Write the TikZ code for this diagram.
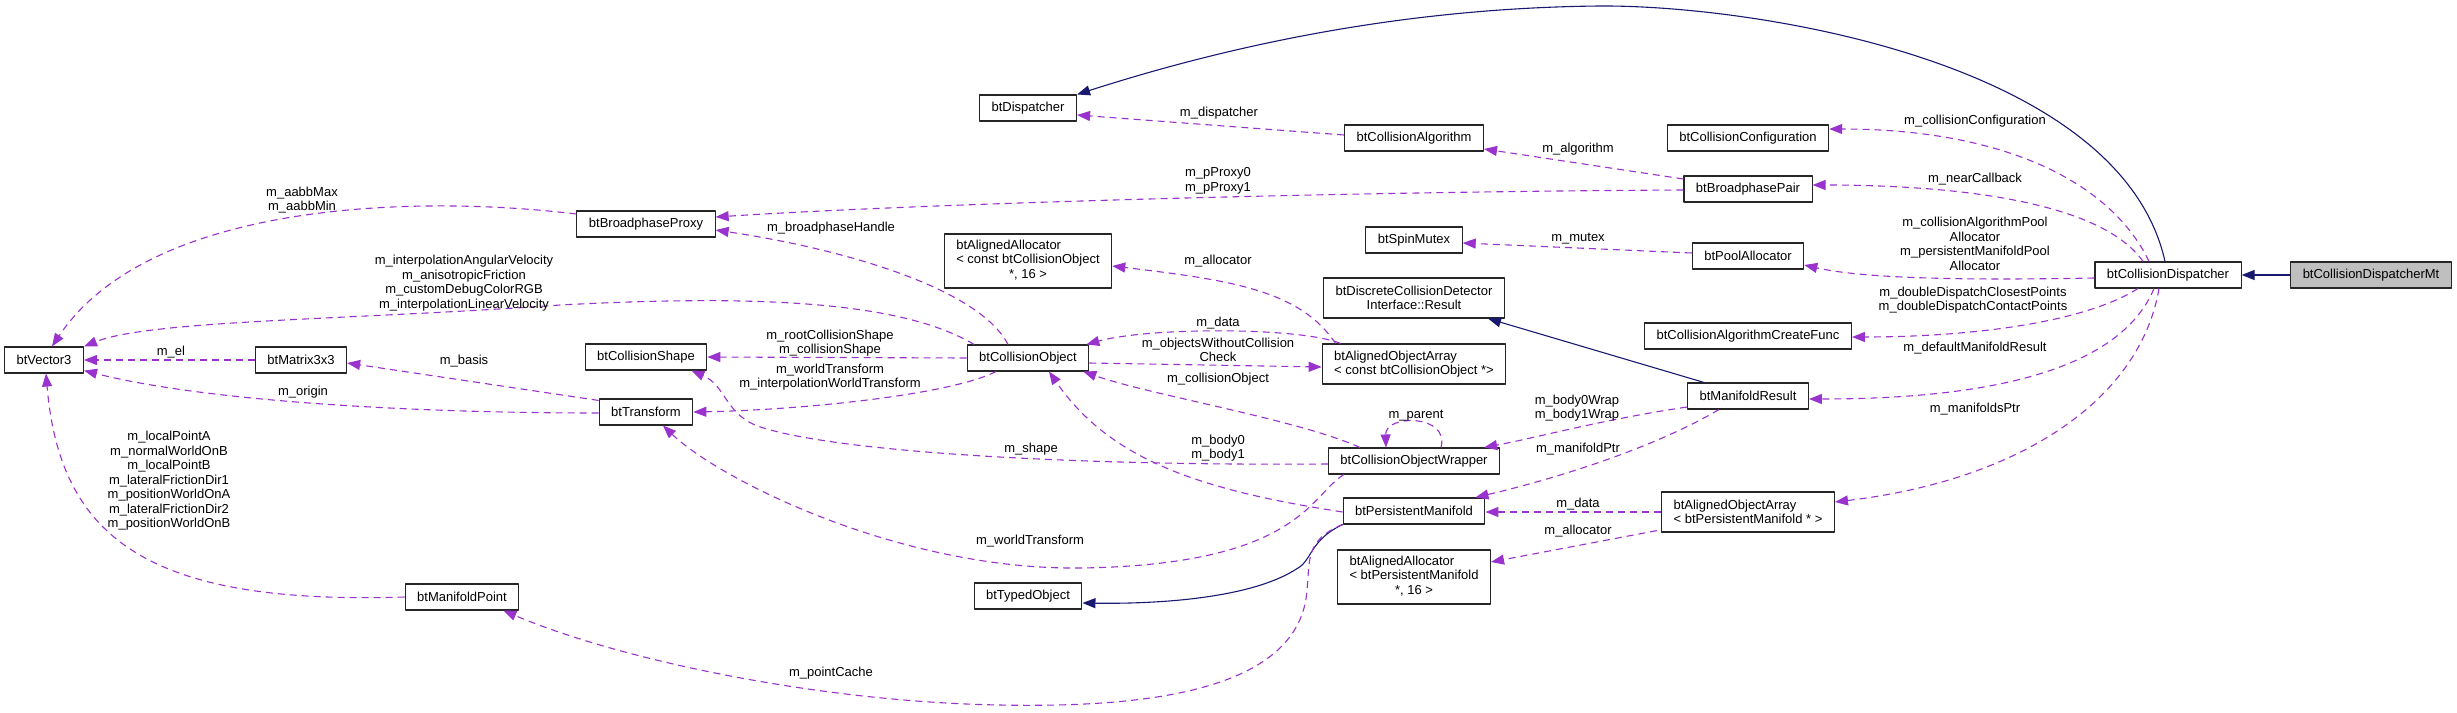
\documentclass[tikz,border=0pt]{standalone}
\usepackage{fontspec}
\setmainfont{Liberation Sans}
\usepackage{xcolor}
\usepackage{tikz}
\usetikzlibrary{arrows.meta}
\usetikzlibrary{calc}
\definecolor{edgepurple}{HTML}{9A32CD}
\definecolor{edgenavy}{HTML}{191970}
\definecolor{nodegray}{HTML}{BFBFBF}

\begin{document}
\begin{tikzpicture}[x=1pt,y=-1pt,>=Triangle,line join=round,line cap=round]
% -------------------------------------------------
% Styles
% -------------------------------------------------
\tikzset{
  cls/.style={draw=black!85, line width=1.1pt, fill=white, font=\fontsize{13}{14.5}\selectfont, inner xsep=12pt, inner ysep=3pt, minimum height=26pt},
  member/.style={draw=edgepurple, line width=1.1pt, dash pattern=on 7pt off 5pt, line cap=butt, -{Triangle[length=13pt,width=10pt]}},
  inherit/.style={draw=edgenavy, line width=1.1pt, -{Triangle[length=13pt,width=10pt]}},
  lbl/.style={font=\fontsize{13}{14.5}\selectfont, align=center, inner sep=0pt},
}
\useasboundingbox (0,0) rectangle (2457,712);
% -------------------------------------------------
% CLASSES
% -------------------------------------------------
\node[cls, fill=nodegray] (dispMt) at (2371,275) {btCollisionDispatcherMt};
\node[cls] (disp) at (2168,275) {btCollisionDispatcher};

\node[cls] (collConf) at (1748,138) {btCollisionConfiguration};
\node[cls] (bpPair) at (1748,189) {btBroadphasePair};
\node[cls] (poolAlloc) at (1748,256) {btPoolAllocator};
\node[cls] (createFunc) at (1748,336) {btCollisionAlgorithmCreateFunc};
\node[cls] (manRes) at (1748,396) {btManifoldResult};
\node[cls, minimum height=40pt, align=left] (arrPersMan) at (1748,512) {btAlignedObjectArray\\< btPersistentManifold * >};

\node[cls] (collAlg) at (1414,138) {btCollisionAlgorithm};
\node[cls] (spinMutex) at (1414,240) {btSpinMutex};
\node[cls, minimum height=40pt, align=center] (dcdiResult) at (1414,298) {btDiscreteCollisionDetector\\Interface::Result};
\node[cls, minimum height=40pt, align=left] (arrCollObj) at (1414,364) {btAlignedObjectArray\\< const btCollisionObject *>};
\node[cls] (collObjWrap) at (1414,461) {btCollisionObjectWrapper};
\node[cls] (persMan) at (1414,511) {btPersistentManifold};
\node[cls, minimum height=54pt] (allocPersMan) at (1414,577) {\begin{tabular}{@{}l@{}}btAlignedAllocator\\< btPersistentManifold\\\multicolumn{1}{@{}c@{}}{*, 16 >}\end{tabular}};

\node[cls] (dispatcher) at (1028,108) {btDispatcher};
\node[cls, minimum height=54pt] (allocCollObj) at (1028,261) {\begin{tabular}{@{}l@{}}btAlignedAllocator\\< const btCollisionObject\\\multicolumn{1}{@{}c@{}}{*, 16 >}\end{tabular}};
\node[cls] (collObj) at (1028,358) {btCollisionObject};
\node[cls] (typedObj) at (1028,596) {btTypedObject};

\node[cls] (bpProxy) at (646,224) {btBroadphaseProxy};
\node[cls] (collShape) at (646,357) {btCollisionShape};
\node[cls] (transform) at (646,412) {btTransform};
\node[cls] (manPoint) at (462,597) {btManifoldPoint};
\node[cls] (matrix) at (301,360) {btMatrix3x3};
\node[cls] (vector) at (44,360) {btVector3};

% -------------------------------------------------
% INHERITANCE
% -------------------------------------------------
\draw[inherit] (dispMt) -- (disp);
\draw[inherit] ($(disp.north)+(-3,0)$) .. controls (2120,60) and (1750,5) .. (1600,6) .. controls (1380,8) and (1200,55) .. (dispatcher.north east);
\draw[inherit] ($(manRes.north)+(-44,0)$) -- ($(dcdiResult.south)+(74,0)$);
\draw[inherit] (persMan.south west) .. controls (1310,540) and (1312,560) .. (1298,568) .. controls (1250,600) and (1150,604) .. ($(typedObj.east)+(0,7)$);

% -------------------------------------------------
% MEMBERS
% -------------------------------------------------
\draw[member] ($(disp.north)+(-19,0)$) .. controls (2110,180) and (2000,129) .. ($(collConf.east)+(0,-9)$);
\draw[member] ($(disp.north)+(-25,0)$) .. controls (2100,200) and (1950,185) .. ($(bpPair.east)+(0,-4)$);
\draw[member] ($(disp.west)+(0,3)$) .. controls (1990,280) and (1870,280) .. ($(poolAlloc.east)+(0,9)$);
\draw[member] ($(disp.south)+(-30,0)$) .. controls (2080,325) and (1960,337) .. ($(createFunc.east)+(0,1)$);
\draw[member] ($(disp.south)+(-14,0)$) .. controls (2120,370) and (1990,399) .. ($(manRes.east)+(0,3)$);
\draw[member] ($(disp.south)+(-9,0)$) .. controls (2140,400) and (2020,480) .. ($(arrPersMan.east)+(0,-10)$);

\draw[member] ($(collAlg.west)+(0,-3)$) -- ($(dispatcher.east)+(0,7)$);
\draw[member] ($(bpPair.west)+(0,-10)$) -- ($(collAlg.east)+(0,11)$);
\draw[member] ($(bpPair.west)+(0,1)$) .. controls (1300,192) and (900,205) .. ($(bpProxy.east)+(0,-7)$);
\draw[member] ($(poolAlloc.west)+(0,-3)$) -- ($(spinMutex.east)+(0,3)$);

\draw[member] ($(bpProxy.west)+(0,-10)$) .. controls (420,195) and (150,200) .. ($(vector.north)+(8,0)$);
\draw[member] ($(collObj.north)+(-20,0)$) .. controls (980,290) and (850,250) .. ($(bpProxy.east)+(0,6)$);
\draw[member] ($(collObj.north)+(-54,0)$) .. controls (900,300) and (750,295) .. (560,305) .. controls (350,320) and (150,320) .. (vector.north east);
\draw[member] (collObj.west) -- (collShape.east);
\draw[member] ($(collObj.south)+(-32,0)$) .. controls (950,395) and (800,410) .. (transform.east);
\draw[member] ($(collObj.east)+(0,5)$) -- ($(arrCollObj.west)+(0,3)$);
\draw[member] ($(arrCollObj.north west)+(19,0)$) .. controls (1300,327) and (1150,327) .. ($(collObj.north east)+(-3,0)$);
\draw[member] ($(arrCollObj.north west)+(14,0)$) .. controls (1300,290) and (1230,280) .. ($(allocCollObj.east)+(0,5)$);

\draw[member] (matrix.west) -- (vector.east);
\draw[member] ($(transform.north west)+(0,2)$) -- ($(matrix.east)+(0,3)$);
\draw[member] ($(transform.west)+(0,1)$) .. controls (400,413) and (200,400) .. ($(vector.south east)+(0,-3)$);

\draw[member] ($(collObjWrap.north west)+(32,0)$) .. controls (1300,420) and (1150,395) .. ($(collObj.south east)+(-6,0)$);
\draw[member] ($(collObjWrap.north)+(27,0)$) .. controls (1450,414) and (1385,414) .. ($(collObjWrap.north)+(-28,0)$);
\draw[member] ($(collObjWrap.west)+(0,3)$) .. controls (1050,466) and (820,450) .. (755,425) .. controls (725,412) and (725,385) .. ($(collShape.south east)+(-16,0)$);
\draw[member] ($(collObjWrap.south west)+(16,0)$) .. controls (1310,495) and (1300,565) .. (1080,568) .. controls (900,570) and (720,480) .. ($(transform.south)+(17,0)$);

\draw[member] ($(manRes.west)+(0,11)$) .. controls (1600,420) and (1540,437) .. ($(collObjWrap.north east)+(-16,0)$);
\draw[member] ($(manRes.south west)+(32,0)$) .. controls (1650,450) and (1550,480) .. ($(persMan.north east)+(-10,0)$);
\draw[member] ($(persMan.west)+(0,1)$) .. controls (1200,490) and (1110,460) .. ($(collObj.south)+(21,0)$);
\draw[member] (persMan.south west) .. controls (1305,540) and (1310,560) .. (1307,590) .. controls (1300,690) and (1150,708) .. (1000,705) .. controls (820,702) and (620,660) .. ($(manPoint.south east)+(-16,0)$);
\draw[member] (manPoint.west) .. controls (150,605) and (60,540) .. ($(vector.south)+(2,0)$);
\draw[member] (arrPersMan.west) -- ($(persMan.east)+(0,1)$);
\draw[member] ($(arrPersMan.south west)+(-4,-2)$) -- ($(allocPersMan.east)+(0,-15)$);

% -------------------------------------------------
% LABELS
% -------------------------------------------------
\node[lbl] (lCollConf) at (1975,121) {m\_collisionConfiguration};
\node[lbl] (lNearCb) at (1975,179) {m\_nearCallback};
\node[lbl] (lPools) at (1975,244) {m\_collisionAlgorithmPool\\Allocator\\m\_persistentManifoldPool\\Allocator};
\node[lbl] (lDouble) at (1973,300) {m\_doubleDispatchClosestPoints\\m\_doubleDispatchContactPoints};
\node[lbl] (lDefRes) at (1975,348) {m\_defaultManifoldResult};
\node[lbl] (lManPtrs) at (1975,409) {m\_manifoldsPtr};

\node[lbl] (lDispatcher) at (1219,113) {m\_dispatcher};
\node[lbl] (lAlgorithm) at (1578,149) {m\_algorithm};
\node[lbl] (lProxies) at (1218,181) {m\_pProxy0\\m\_pProxy1};
\node[lbl] (lMutex) at (1578,239) {m\_mutex};
\node[lbl] (lAllocCO) at (1218,261) {m\_allocator};
\node[lbl] (lDataCO) at (1218,323) {m\_data};
\node[lbl] (lWithout) at (1218,350) {m\_objectsWithoutCollision\\Check};
\node[lbl] (lBpHandle) at (831,228) {m\_broadphaseHandle};
\node[lbl] (lShapes) at (830,343) {m\_rootCollisionShape\\m\_collisionShape};
\node[lbl] (lTransforms) at (830,377) {m\_worldTransform\\m\_interpolationWorldTransform};
\node[lbl] (lCollObj) at (1218,379) {m\_collisionObject};
\node[lbl] (lParent) at (1416,416) {m\_parent};
\node[lbl] (lBodyWraps) at (1577,408) {m\_body0Wrap\\m\_body1Wrap};
\node[lbl] (lManPtr) at (1578,449) {m\_manifoldPtr};
\node[lbl] (lBodies) at (1218,448) {m\_body0\\m\_body1};
\node[lbl] (lShape) at (1031,449) {m\_shape};
\node[lbl] (lDataPM) at (1578,504) {m\_data};
\node[lbl] (lAllocPM) at (1578,531) {m\_allocator};
\node[lbl] (lWorldTr) at (1030,541) {m\_worldTransform};
\node[lbl] (lPointCache) at (831,673) {m\_pointCache};

\node[lbl] (lAabb) at (302,200) {m\_aabbMax\\m\_aabbMin};
\node[lbl] (lVelocities) at (464,283) {m\_interpolationAngularVelocity\\m\_anisotropicFriction\\m\_customDebugColorRGB\\m\_interpolationLinearVelocity};
\node[lbl] (lEl) at (171,352) {m\_el};
\node[lbl] (lBasis) at (464,361) {m\_basis};
\node[lbl] (lOrigin) at (303,392) {m\_origin};
\node[lbl] (lPoints) at (169,481) {m\_localPointA\\m\_normalWorldOnB\\m\_localPointB\\m\_lateralFrictionDir1\\m\_positionWorldOnA\\m\_lateralFrictionDir2\\m\_positionWorldOnB};

\end{tikzpicture}
\end{document}
